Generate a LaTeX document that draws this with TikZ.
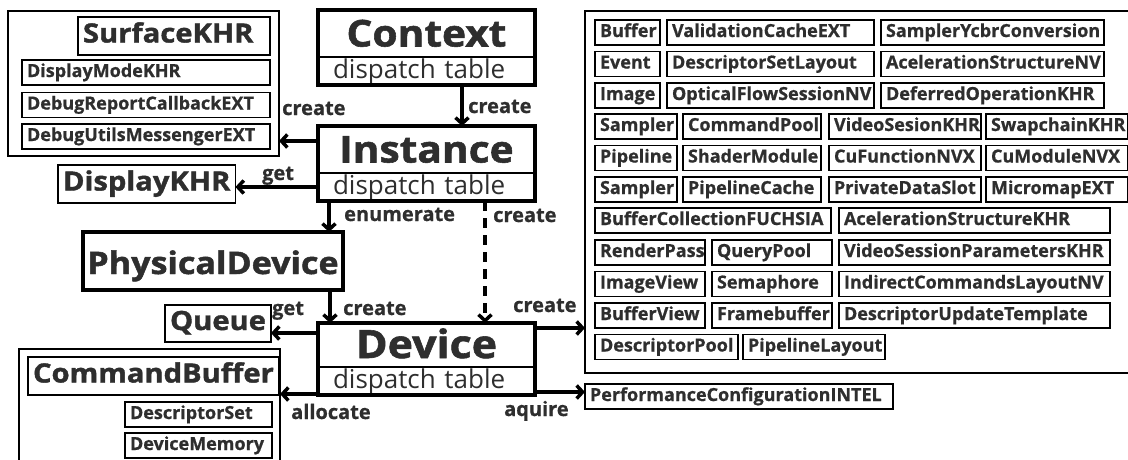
\documentclass[tikz,border=0pt]{standalone}
\usepackage{fontspec}
\setmainfont{Open Sans}
\newfontfamily\headfont{Open Sans}[FakeStretch=1.1, BoldFeatures={FakeBold=1.5}]
\newfontfamily\itemfont{Open Sans}[BoldFeatures={FakeBold=0.8}]
\usepackage{tikz}
\usetikzlibrary{arrows.meta,positioning}
\definecolor{ink}{RGB}{46,46,46}
\tikzset{>={Straight Barb[length=6pt,width=13pt]}}
\tikzset{
  item/.style={draw, line width=1.8pt, outer sep=0pt, anchor=north west, inner xsep=5pt, inner ysep=0pt,
    minimum height=25pt, text height=13pt, text depth=4pt, text=ink, font=\itemfont\bfseries\fontsize{18}{18}\selectfont},
  big/.style={item, minimum height=38pt, text height=19pt, text depth=6pt, font=\headfont\bfseries\fontsize{26.5}{26.5}\selectfont},
  group/.style={draw, line width=1.6pt, outer sep=0pt, inner sep=0pt, anchor=north west},
  head/.style={outer sep=0pt, inner sep=0pt, anchor=north west, minimum width=217pt, text height=27pt, text depth=1pt,
    text=ink, font=\headfont\bfseries\fontsize{37}{37}\selectfont},
  tbl/.style={outer sep=0pt, inner xsep=15pt, inner ysep=0pt, text width=187pt, align=left, minimum height=28pt,
    text height=19pt, text depth=5pt, text=ink, font=\fontsize{26}{26}\selectfont},
  flow/.style={->, line width=3.5pt},
  lbl/.style={anchor=base west, inner sep=0pt, text=ink, font=\itemfont\bfseries\fontsize{20}{20}\selectfont},
}
\begin{document}
\begin{tikzpicture}[x=1pt,y=-1pt]
  \useasboundingbox (0,0) rectangle (1128,459);

  \node[head, minimum height=47pt] (context) at (318,10) {Context};
  \node[tbl, below=0pt of context] (contexttbl) {dispatch table};
  \draw[line width=3.5pt] (context.north west) rectangle (contexttbl.south east);
  \draw[line width=2.5pt] (context.south west) -- (context.south east);

  \node[head, minimum height=47pt] (instance) at (318,126) {Instance};
  \node[tbl, below=0pt of instance] (instancetbl) {dispatch table};
  \draw[line width=3.5pt] (instance.north west) rectangle (instancetbl.south east);
  \draw[line width=2.5pt] (instance.south west) -- (instance.south east);

  \node[head, minimum height=44pt, font=\headfont\bfseries\fontsize{39}{39}\selectfont] (device) at (318,323) {Device};
  \node[tbl, below=0pt of device] (devicetbl) {dispatch table};
  \draw[line width=3.5pt] (device.north west) rectangle (devicetbl.south east);
  \draw[line width=2.5pt] (device.south west) -- (device.south east);

  \node[head, draw, line width=3.5pt, minimum width=260pt, minimum height=58pt, font=\headfont\bfseries\fontsize{31}{31}\selectfont]
    (physical) at (83,232) {PhysicalDevice};

  \node[group, minimum width=271pt, minimum height=145pt] (instancechildren) at (8,11) {};
  \node[big] (surface) at (78,17) {\hbox to 182pt{SurfaceKHR\hfil}};
  \node[item] (displaymode) at (22,60) {\hbox to 238pt{DisplayModeKHR\hfil}};
  \node[item] (debugreport) at (22,92.5) {\hbox to 238pt{DebugReportCallbackEXT\hfil}};
  \node[item] (debugutils) at (22,124) {\hbox to 238pt{DebugUtilsMessengerEXT\hfil}};

  \node[big, minimum width=177pt] (displaykhr) at (58,165) {DisplayKHR};
  \node[big, minimum width=103pt, minimum height=37pt] (queue) at (165,305) {Queue};

  \node[group, minimum width=261pt, minimum height=130pt] (commandgroup) at (19,349) {};
  \node[big, minimum width=243pt] (commandbuffer) at (28,357) {CommandBuffer};
  \node[item] (descriptorset) at (125,402) {\hbox to 137pt{DescriptorSet\hfil}};
  \node[item] (devicememory) at (125,433) {\hbox to 137pt{DeviceMemory\hfil}};

  \node[item] (perfconfig) at (585,384) {\hbox to 298pt{PerformanceConfigurationINTEL\hfil}};

  \node[group, minimum width=560pt, minimum height=362pt] (deviceobjects) at (585,11) {};
  \foreach \nm/\txt/\x/\w/\y in {
      buffer/Buffer/595/65/20, validation/ValidationCacheEXT/667/207/20, ycbr/SamplerYcbrConversion/881/223/20,
      event/Event/595/65/51.5, setlayout/DescriptorSetLayout/667/207/51.5, asnv/AcelerationStructureNV/881/223/51.5,
      image/Image/595/65/83, opticalflow/OpticalFlowSessionNV/667/207/83, deferred/DeferredOperationKHR/881/223/83,
      sampler/Sampler/595/82/114, commandpool/CommandPool/683/138/114, videosession/VideoSesionKHR/829/152/114, swapchain/SwapchainKHR/986/142/114,
      pipeline/Pipeline/595/82/145.5, shader/ShaderModule/683/138/145.5, cufunction/CuFunctionNVX/829/152/145.5, cumodule/CuModuleNVX/986/142/145.5,
      samplerb/Sampler/595/82/177, pipecache/PipelineCache/683/138/177, privdata/PrivateDataSlot/829/152/177, micromap/MicromapEXT/986/142/177,
      fuchsia/BufferCollectionFUCHSIA/595/236/208, askhr/AcelerationStructureKHR/839/271/208,
      renderpass/RenderPass/595/110/240, querypool/QueryPool/712/120/240, vsparams/VideoSessionParametersKHR/839/271/240,
      imageview/ImageView/595/110/271.5, semaphore/Semaphore/712/120/271.5, indirect/IndirectCommandsLayoutNV/839/271/271.5,
      bufferview/BufferView/595/110/303, framebuffer/Framebuffer/712/120/303, updtemplate/DescriptorUpdateTemplate/839/271/303,
      descpool/DescriptorPool/595/143/334.5, pipelayout/PipelineLayout/743/142/334.5}
    \node[item] (\nm) at (\x,\y) {\hbox to \dimexpr\w pt-10pt\relax{\txt\hfil}};

  \draw[flow] ([xshift=35.5pt]contexttbl.south) -- ([xshift=35.5pt]instance.north);
  \draw[flow] ([yshift=8.5pt]instance.west) -- ([yshift=8.5pt]instance.west -| instancechildren.east);
  \draw[flow] (instancetbl.west) -- (instancetbl.west -| displaykhr.east);
  \draw[flow] ([xshift=-97.5pt]instancetbl.south) -- ([xshift=-97.5pt]instancetbl.south |- physical.north);
  \draw[flow, dash pattern=on 10pt off 7pt] ([xshift=58.5pt]instancetbl.south) -- ([xshift=58.5pt]instancetbl.south |- device.north);
  \draw[flow] ([xshift=117pt]physical.south) -- ([xshift=117pt]physical.south |- device.north);
  \draw[flow] ([yshift=12pt]device.west) -- ([yshift=12pt]device.west -| queue.east);
  \draw[flow] ([yshift=-13pt]devicetbl.west) -- ([yshift=-13pt]devicetbl.west -| commandgroup.east);
  \draw[flow] ([yshift=17pt]device.east) -- ([yshift=17pt]device.east -| deviceobjects.west);
  \draw[flow] ([yshift=-11pt]devicetbl.east) -- ([yshift=-11pt]devicetbl.east -| perfconfig.west);

  \node[lbl] (lcreatei) at (468,113) {create};
  \node[lbl] (lcreates) at (282,115) {create};
  \node[lbl] (lgetd) at (262,180) {get};
  \node[lbl] (lenum) at (344,221) {enumerate};
  \node[lbl] (lcreated) at (493,222) {create};
  \node[lbl] (lcreatep) at (343,315) {create};
  \node[lbl] (lcreateo) at (513,312) {create};
  \node[lbl] (lgetq) at (272,315) {get};
  \node[lbl] (lalloc) at (291,419) {allocate};
  \node[lbl] (laquire) at (504,416) {aquire};
\end{tikzpicture}
\end{document}
